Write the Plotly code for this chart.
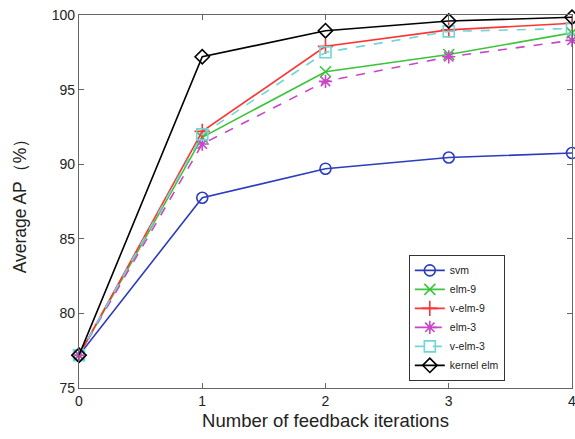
import plotly.graph_objects as go

iterations = [0, 1, 2, 3, 4]
svm = [77.2, 87.75, 89.7, 90.45, 90.75]
elm_9 = [77.2, 91.8, 96.2, 97.35, 98.8]
v_elm_9 = [77.2, 92.2, 97.9, 99.0, 99.45]
elm_3 = [77.2, 91.35, 95.55, 97.2, 98.3]
v_elm_3 = [77.2, 92.0, 97.5, 98.9, 99.1]
kernel_elm = [77.2, 97.2, 98.95, 99.6, 99.85]

series = [
    ("svm", svm, "#2b3cbf", "solid", "circle-open"),
    ("elm-9", elm_9, "#3cc43c", "solid", "x-thin-open"),
    ("v-elm-9", v_elm_9, "#ff3333", "solid", "cross-thin-open"),
    ("elm-3", elm_3, "#c846c8", "dash", "asterisk-open"),
    ("v-elm-3", v_elm_3, "#6fd6d6", "dash", "square-open"),
    ("kernel elm", kernel_elm, "#000000", "solid", "diamond-open"),
]

fig = go.Figure()
for name, vals, color, dash, sym in series:
    fig.add_trace(go.Scatter(
        x=iterations, y=vals, name=name, mode="lines+markers",
        line=dict(color=color, width=1.6, dash=dash),
        marker=dict(symbol=sym, size=11, color=color, line=dict(color=color, width=1.6)),
        cliponaxis=False,
    ))

axis_common = dict(
    showgrid=False, zeroline=False, showline=True, linecolor="#666666", linewidth=1.2,
    mirror="ticks", ticks="inside", ticklen=5, tickcolor="#666666",
    automargin=False, ticklabeloverflow="allow",
    tickfont=dict(family="Liberation Sans, Arial, sans-serif", size=14, color="#222222"),
)

fig.update_layout(
    width=575, height=439,
    margin=dict(l=79, r=3, t=15, b=51),
    paper_bgcolor="white", plot_bgcolor="white",
    font=dict(family="Liberation Sans, Arial, sans-serif", color="#222222"),
    xaxis=dict(range=[0, 4], tickvals=[0, 1, 2, 3, 4],
               title=dict(text="Number of feedback iterations", font=dict(size=18.5), standoff=6),
               **axis_common),
    yaxis=dict(range=[75, 100], tickvals=[75, 80, 85, 90, 95, 100],
               title=dict(text="Average AP（%）", font=dict(size=17.5), standoff=20),
               **axis_common),
    legend=dict(x=0.669, y=0.357, xanchor="left", yanchor="top",
                bgcolor="white", bordercolor="#333333", borderwidth=1,
                font=dict(size=10.5, color="#222222"), tracegroupgap=0,
                itemwidth=30),
    showlegend=True,
)

fig.write_html("out.html", post_script="document.body.style.margin='0';",
               config={"displayModeBar": False})
